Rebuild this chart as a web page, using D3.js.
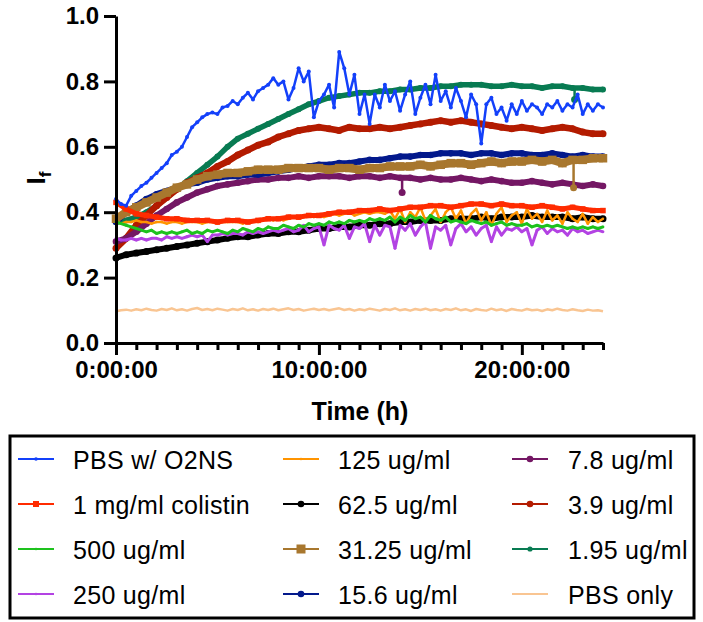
<!DOCTYPE html>
<html>
<head>
<meta charset="utf-8">
<script src="https://cdn.jsdelivr.net/npm/d3@7"></script>
<style>
  body { margin: 0; background: #fff; }
  svg text { font-family: 'Liberation Sans', Arial, sans-serif; }
</style>
</head>
<body>
<svg></svg>
<script>

// sampling times (h) of the plate reader runs
let quarterHours = d3.range(0, 24.001, 0.25)
let halfHours = d3.range(0, 24.001, 0.5)

let seriesNames = ['PBS w/ O2NS', '1 mg/ml colistin', '500 ug/ml', '250 ug/ml',
                   '125 ug/ml', '62.5 ug/ml', '31.25 ug/ml', '15.6 ug/ml',
                   '7.8 ug/ml', '3.9 ug/ml', '1.95 ug/ml', 'PBS only']

// quarter-hour series
let pbsO2ns = [
  0.44, 0.425, 0.42, 0.45,  0.465, 0.48, 0.49, 0.505,  0.52, 0.535, 0.55, 0.575,
  0.585, 0.60, 0.63, 0.66,  0.675, 0.69, 0.70, 0.705,  0.70, 0.72, 0.725, 0.74,
  0.73, 0.75, 0.765, 0.745,  0.77, 0.78, 0.79, 0.81,  0.79, 0.80, 0.745, 0.78,
  0.84, 0.80, 0.83, 0.69,  0.74, 0.76, 0.79, 0.72,  0.89, 0.84, 0.76, 0.82,
  0.70, 0.76, 0.67, 0.76,  0.72, 0.79, 0.74, 0.77,  0.71, 0.76, 0.80, 0.70,
  0.75, 0.79, 0.73, 0.82,  0.74, 0.77, 0.72, 0.78,  0.74, 0.69, 0.76, 0.73,
  0.61, 0.73, 0.75, 0.70,  0.72, 0.68, 0.73, 0.70,  0.74, 0.71, 0.73, 0.72,
  0.70, 0.73, 0.72, 0.74,  0.71, 0.73, 0.72, 0.76,  0.70, 0.73, 0.71, 0.73,
  0.72]

let ug125 = [
  0.37, 0.365, 0.37, 0.37,  0.375, 0.37, 0.37, 0.365,  0.37, 0.37, 0.365, 0.37,
  0.37, 0.365, 0.37, 0.37,  0.37, 0.365, 0.37, 0.37,  0.365, 0.37, 0.37, 0.37,
  0.37, 0.365, 0.37, 0.375,  0.37, 0.375, 0.38, 0.375,  0.38, 0.375, 0.38, 0.385,
  0.38, 0.385, 0.39, 0.385,  0.39, 0.385, 0.39, 0.395,  0.39, 0.395, 0.40, 0.39,
  0.395, 0.40, 0.395, 0.40,  0.40, 0.395, 0.405, 0.38,  0.41, 0.37, 0.40, 0.385,
  0.415, 0.375, 0.39, 0.41,  0.37, 0.40, 0.415, 0.38,  0.405, 0.365, 0.395, 0.41,
  0.375, 0.40, 0.36, 0.395,  0.415, 0.37, 0.39, 0.40,  0.365, 0.41, 0.38, 0.395,
  0.37, 0.405, 0.375, 0.39,  0.365, 0.40, 0.38, 0.37,  0.395, 0.365, 0.385, 0.37,
  0.38]

let ug500 = [
  0.37, 0.365, 0.36, 0.355,  0.35, 0.345, 0.34, 0.345,  0.335, 0.34, 0.335, 0.34,
  0.335, 0.34, 0.345, 0.335,  0.34, 0.335, 0.345, 0.34,  0.345, 0.34, 0.335, 0.345,
  0.34, 0.35, 0.345, 0.34,  0.35, 0.345, 0.355, 0.35,  0.35, 0.36, 0.355, 0.35,
  0.36, 0.355, 0.365, 0.36,  0.365, 0.36, 0.37, 0.365,  0.37, 0.365, 0.375, 0.37,
  0.375, 0.37, 0.38, 0.375,  0.38, 0.375, 0.385, 0.37,  0.385, 0.375, 0.39, 0.38,
  0.385, 0.37, 0.39, 0.38,  0.375, 0.385, 0.37, 0.375,  0.37, 0.365, 0.375, 0.37,
  0.365, 0.37, 0.36, 0.365,  0.37, 0.36, 0.365, 0.36,  0.36, 0.365, 0.355, 0.36,
  0.355, 0.36, 0.355, 0.36,  0.355, 0.35, 0.355, 0.35,  0.355, 0.35, 0.355, 0.35,
  0.355]

let ug250 = [
  0.32, 0.315, 0.315, 0.32,  0.315, 0.32, 0.315, 0.32,  0.32, 0.315, 0.325, 0.32,
  0.325, 0.32, 0.325, 0.33,  0.325, 0.33, 0.31, 0.33,  0.33, 0.335, 0.33, 0.335,
  0.335, 0.33, 0.34, 0.335,  0.34, 0.335, 0.34, 0.345,  0.34, 0.345, 0.35, 0.34,
  0.345, 0.36, 0.34, 0.35,  0.355, 0.30, 0.36, 0.35,  0.345, 0.36, 0.32, 0.355,
  0.35, 0.365, 0.31, 0.36,  0.33, 0.36, 0.355, 0.29,  0.36, 0.345, 0.365, 0.33,
  0.355, 0.37, 0.29, 0.355,  0.345, 0.36, 0.30, 0.35,  0.365, 0.34, 0.355, 0.33,
  0.35, 0.36, 0.31, 0.355,  0.33, 0.35, 0.345, 0.355,  0.34, 0.35, 0.30, 0.345,
  0.355, 0.335, 0.35, 0.34,  0.345, 0.33, 0.35, 0.34,  0.345, 0.335, 0.34, 0.345,
  0.34]

let pbsOnly = [
  0.097, 0.100, 0.102, 0.099,  0.103, 0.100, 0.105, 0.101,  0.099, 0.104, 0.101, 0.106,
  0.100, 0.103, 0.099, 0.104,  0.107, 0.101, 0.104, 0.100,  0.105, 0.102, 0.099, 0.104,
  0.101, 0.106, 0.100, 0.103,  0.099, 0.104, 0.101, 0.105,  0.100, 0.103, 0.106, 0.101,
  0.104, 0.099, 0.102, 0.105,  0.101, 0.104, 0.100, 0.103,  0.106, 0.101, 0.104, 0.099,
  0.103, 0.100, 0.105, 0.102,  0.099, 0.104, 0.101, 0.106,  0.100, 0.103, 0.099, 0.104,
  0.101, 0.105, 0.100, 0.103,  0.099, 0.104, 0.101, 0.106,  0.100, 0.103, 0.098, 0.104,
  0.101, 0.099, 0.105, 0.100,  0.103, 0.098, 0.104, 0.101,  0.099, 0.104, 0.100, 0.102,
  0.098, 0.103, 0.100, 0.105,  0.101, 0.099, 0.103, 0.100,  0.098, 0.102, 0.099, 0.100,
  0.097]

// half-hour series
let colistin = [
  0.43, 0.41,  0.395, 0.39,  0.385, 0.38,  0.38, 0.375,  0.375, 0.375,  0.37, 0.375,
  0.375, 0.37,  0.375, 0.38,  0.38, 0.385,  0.385, 0.39,  0.39, 0.395,  0.40, 0.40,
  0.405, 0.405,  0.41, 0.405,  0.41, 0.415,  0.415, 0.42,  0.42, 0.415,  0.42, 0.425,
  0.425, 0.42,  0.425, 0.42,  0.42, 0.415,  0.42, 0.415,  0.41, 0.415,  0.41, 0.405,
  0.405]

let ug62 = [
  0.26, 0.27,  0.275, 0.28,  0.285, 0.29,  0.295, 0.30,  0.305, 0.31,  0.315, 0.32,
  0.325, 0.325,  0.33, 0.335,  0.335, 0.34,  0.34, 0.345,  0.35, 0.35,  0.355, 0.355,
  0.36, 0.36,  0.365, 0.365,  0.37, 0.37,  0.375, 0.375,  0.375, 0.38,  0.38, 0.38,
  0.385, 0.38,  0.385, 0.385,  0.385, 0.39,  0.385, 0.385,  0.385, 0.38,  0.385, 0.38,
  0.38]

let ug31 = [
  0.38, 0.40,  0.415, 0.43,  0.445, 0.46,  0.475, 0.485,  0.50, 0.51,  0.515, 0.52,
  0.52, 0.525,  0.53, 0.53,  0.53, 0.535,  0.535, 0.535,  0.535, 0.53,  0.535, 0.535,
  0.53, 0.535,  0.535, 0.54,  0.54, 0.54,  0.545, 0.54,  0.545, 0.55,  0.55, 0.545,
  0.55, 0.555,  0.55, 0.555,  0.555, 0.56,  0.555, 0.56,  0.55, 0.56,  0.56, 0.565,
  0.565]

let ug15 = [
  0.37, 0.40,  0.42, 0.44,  0.455, 0.465,  0.475, 0.485,  0.49, 0.50,  0.505, 0.51,
  0.51, 0.515,  0.515, 0.52,  0.525, 0.53,  0.535, 0.54,  0.545, 0.545,  0.55, 0.55,
  0.555, 0.56,  0.56, 0.565,  0.57, 0.57,  0.575, 0.575,  0.58, 0.58,  0.58, 0.575,
  0.58, 0.58,  0.575, 0.58,  0.58, 0.575,  0.575, 0.58,  0.575, 0.57,  0.575, 0.57,
  0.57]

let ug7 = [
  0.31, 0.32,  0.34, 0.365,  0.39, 0.41,  0.43, 0.445,  0.46, 0.47,  0.48, 0.485,
  0.49, 0.495,  0.50, 0.50,  0.505, 0.505,  0.51, 0.505,  0.51, 0.51,  0.51, 0.505,
  0.51, 0.51,  0.505, 0.51,  0.505, 0.505,  0.50, 0.505,  0.50, 0.50,  0.505, 0.50,
  0.495, 0.50,  0.495, 0.49,  0.49, 0.495,  0.49, 0.485,  0.49, 0.485,  0.48, 0.485,
  0.48]

let ug3 = [
  0.29, 0.32,  0.36, 0.39,  0.42, 0.445,  0.47, 0.49,  0.505, 0.52,  0.54, 0.555,
  0.575, 0.59,  0.605, 0.615,  0.63, 0.64,  0.65, 0.655,  0.66, 0.655,  0.65, 0.66,
  0.655, 0.655,  0.66, 0.655,  0.66, 0.665,  0.67, 0.675,  0.68, 0.675,  0.68, 0.675,
  0.67, 0.665,  0.66, 0.655,  0.66, 0.655,  0.65, 0.655,  0.66, 0.655,  0.645, 0.64,
  0.64]

let ug1 = [
  0.37, 0.375,  0.385, 0.40,  0.42, 0.445,  0.47, 0.495,  0.52, 0.545,  0.57, 0.60,
  0.625, 0.64,  0.655, 0.67,  0.685, 0.70,  0.715, 0.73,  0.74, 0.75,  0.755, 0.76,
  0.765, 0.765,  0.77, 0.77,  0.775, 0.775,  0.78, 0.78,  0.785, 0.785,  0.79, 0.79,
  0.79, 0.785,  0.785, 0.79,  0.785, 0.785,  0.78, 0.785,  0.785, 0.78,  0.78, 0.775,
  0.775]

// single dropped readings: [time (h), from value, to value]
let ug31Dips = [[22.55, 0.56, 0.475]]
let ug7Dips = [[14.1, 0.505, 0.46]]
let ug1Dips = [[22.6, 0.785, 0.745]]

let yTicks = [0, 0.2, 0.4, 0.6, 0.8, 1.0]
let xMajorTicks = [0, 10, 20]
let xTickLabels = ['0:00:00', '10:00:00', '20:00:00']

let allValues = [pbsO2ns, colistin, ug500, ug250, ug125, ug62, ug31, ug15, ug7, ug3, ug1, pbsOnly]
let allTimes = [quarterHours, halfHours, quarterHours, quarterHours, quarterHours, halfHours,
                halfHours, halfHours, halfHours, halfHours, halfHours, quarterHours]
let allDips = [[], [], [], [], [], [], ug31Dips, [], ug7Dips, [], ug1Dips, []]

// look of each series, Prism style
let colors = ['#1340fa', '#ff2b00', '#1ec21e', '#b343e3', '#ff9400', '#000000',
              '#a8772e', '#03198c', '#741764', '#b31b00', '#087b52', '#f9c592']
let lineWidths = [2.5, 5, 3, 3, 2.5, 6, 8, 6, 6, 6.5, 5.5, 2.5]
let markerTypes = ['dot', 'square', 'dot', 'dot', 'dot', 'circle', 'square', 'circle', 'circle', 'circle', 'circle', 'none']
let markerSizes = [2, 5.5, 1.4, 1.4, 1.2, 3.5, 8.5, 3.3, 3.3, 3.5, 3, 0]
let legendMarkerSizes = [1.8, 6, 1.3, 1.3, 1.3, 3.3, 9, 3.3, 3.3, 3.3, 2.6, 0]

let width = 703
let height = 622
let plotLeft = 116
let plotRight = 603
let plotTop = 16
let plotBottom = 343

let svg = d3.select('svg')
            .attr('width', width)
            .attr('height', height)

let series = seriesNames.map((name, i) => {
  return {
    name: name,
    index: i,
    points: allTimes[i].map((t, j) => ({ t: t, v: allValues[i][j] })),
    dips: allDips[i]
  }
})

let xScale = d3.scaleLinear().domain([0, 24]).range([plotLeft, plotRight])
let yScale = d3.scaleLinear().domain([0, 1]).range([plotBottom, plotTop])

let line = d3.line()
             .x((d) => xScale(d.t))
             .y((d) => yScale(d.v))

let drawMarker = (g, type, size, color, x, y) => {
  if (type === 'square') {
    g.append('rect')
     .attr('x', x - size / 2)
     .attr('y', y - size / 2)
     .attr('width', size)
     .attr('height', size)
     .attr('fill', color)
  } else if (type !== 'none') {
    g.append('circle')
     .attr('cx', x)
     .attr('cy', y)
     .attr('r', size)
     .attr('fill', color)
  }
}

// plot lines: first data set ends up on top
let plot = svg.append('g')
series.slice().reverse().forEach((s) => {
  let c = colors[s.index]
  let g = plot.append('g')
  g.append('path')
   .datum(s.points)
   .attr('d', line)
   .attr('fill', 'none')
   .attr('stroke', c)
   .attr('stroke-width', lineWidths[s.index])
   .attr('stroke-linejoin', 'round')
  s.points.forEach((p) => {
    drawMarker(g, markerTypes[s.index], markerSizes[s.index], c, xScale(p.t), yScale(p.v))
  })
  s.dips.forEach((d) => {
    g.append('line')
     .attr('x1', xScale(d[0]))
     .attr('x2', xScale(d[0]))
     .attr('y1', yScale(d[1]))
     .attr('y2', yScale(d[2]))
     .attr('stroke', c)
     .attr('stroke-width', 2.5)
    g.append('circle')
     .attr('cx', xScale(d[0]))
     .attr('cy', yScale(d[2]))
     .attr('r', 3.5)
     .attr('fill', c)
  })
})

// axes
let yAxis = d3.axisLeft(yScale)
              .tickValues(yTicks)
              .tickFormat(d3.format('.1f'))
              .tickSize(12)
              .tickSizeOuter(0)
              .tickPadding(5)

let xAxis = d3.axisBottom(xScale)
              .tickValues(d3.range(0, 25, 1))
              .tickFormat((d) => {
                let k = xMajorTicks.indexOf(d)
                return k >= 0 ? xTickLabels[k] : ''
              })
              .tickSize(12)
              .tickSizeOuter(0)
              .tickPadding(6)

let gx = svg.append('g')
            .attr('transform', 'translate(0,' + plotBottom + ')')
            .call(xAxis)
gx.selectAll('.tick line')
  .attr('y2', (d) => xMajorTicks.indexOf(d) >= 0 ? 12 : 7)

let gy = svg.append('g')
            .attr('transform', 'translate(' + plotLeft + ',0)')
            .call(yAxis)

svg.selectAll('.domain, .tick line')
   .attr('stroke', '#000')
   .attr('stroke-width', 3)
svg.selectAll('.tick text')
   .attr('fill', '#000')
   .style('font-size', '24px')
   .style('font-weight', 'bold')

svg.append('text')
   .attr('x', 360)
   .attr('y', 420)
   .attr('text-anchor', 'middle')
   .style('font-size', '25px')
   .style('font-weight', 'bold')
   .text('Time (h)')

let yTitle = svg.append('text')
                .attr('transform', 'translate(45,' + 178 + ') rotate(-90)')
                .attr('text-anchor', 'middle')
                .style('font-size', '26px')
                .style('font-weight', 'bold')
yTitle.append('tspan').text('I')
yTitle.append('tspan').attr('dy', 6).style('font-size', '17px').text('f')

// legend
let legend = svg.append('g')
legend.append('rect')
      .attr('x', 10)
      .attr('y', 436)
      .attr('width', 684)
      .attr('height', 182)
      .attr('fill', 'none')
      .attr('stroke', '#000')
      .attr('stroke-width', 3)

let colLine = [18, 283, 512]
let colText = [73, 338, 568]

series.forEach((s) => {
  let col = Math.floor(s.index / 4)
  let row = s.index % 4
  let cy = 459 + row * 45
  let g = legend.append('g')
  g.append('line')
   .attr('x1', colLine[col])
   .attr('x2', colLine[col] + 36)
   .attr('y1', cy)
   .attr('y2', cy)
   .attr('stroke', colors[s.index])
   .attr('stroke-width', 2)
  drawMarker(g, markerTypes[s.index], legendMarkerSizes[s.index], colors[s.index], colLine[col] + 18, cy)
  g.append('text')
   .attr('x', colText[col])
   .attr('y', cy + 9.5)
   .style('font-size', '25px')
   .style('letter-spacing', '0.3px')
   .text(s.name)
})

</script>
</body>
</html>
